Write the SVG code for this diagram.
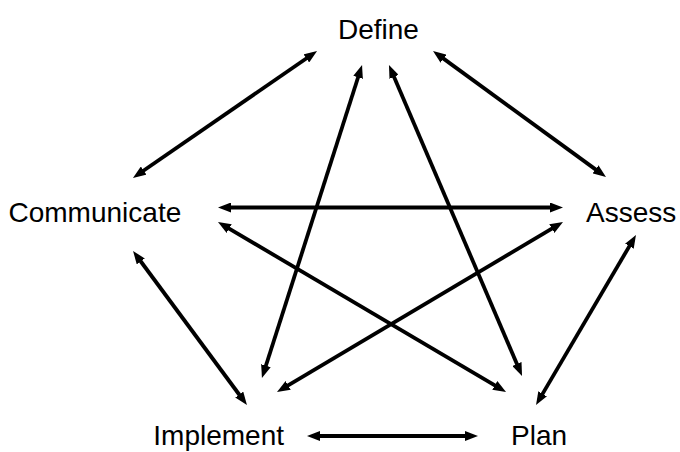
<svg xmlns="http://www.w3.org/2000/svg" width="680" height="452" viewBox="0 0 680 452">
<style>
  .lbl { font-family: "Liberation Sans", Arial, sans-serif; font-size: 28px; fill: #000; }
  .con { stroke: #000; stroke-width: 3.8; fill: none; marker-start: url(#ah); marker-end: url(#ah); }
</style>
<defs>
  <marker id="ah" viewBox="0 0 13 10" refX="3" refY="5" markerWidth="13" markerHeight="10" markerUnits="userSpaceOnUse" orient="auto-start-reverse">
    <path d="M0,0 L13,5 L0,10 z" fill="#000"/>
  </marker>
</defs>
<rect width="680" height="452" fill="#fff"/>
<g id="connectors">
  <line class="con" x1="308.8" y1="56.7" x2="141.2" y2="172.3"/>
  <line class="con" x1="441.1" y1="56.9" x2="597.9" y2="171.1"/>
  <line class="con" x1="359.0" y1="74.5" x2="265.0" y2="368.5"/>
  <line class="con" x1="392.9" y1="74.2" x2="518.1" y2="366.8"/>
  <line class="con" x1="228" y1="207.5" x2="553" y2="207.5"/>
  <line class="con" x1="226.6" y1="227.1" x2="497.4" y2="386.9"/>
  <line class="con" x1="554.4" y1="227.1" x2="285.6" y2="386.9"/>
  <line class="con" x1="630.9" y1="243.6" x2="541.1" y2="396.4"/>
  <line class="con" x1="139.0" y1="259.0" x2="241.0" y2="397.0"/>
  <line class="con" x1="317" y1="436" x2="468" y2="436"/>
</g>
<g id="define"><text class="lbl" x="338" y="39">Define</text></g>
<g id="communicate"><text class="lbl" x="8.5" y="221.5">Communicate</text></g>
<g id="assess"><text class="lbl" x="586" y="221.5">Assess</text></g>
<g id="implement"><text class="lbl" x="284" y="445" text-anchor="end">Implement</text></g>
<g id="plan"><text class="lbl" x="511" y="445">Plan</text></g>
</svg>
